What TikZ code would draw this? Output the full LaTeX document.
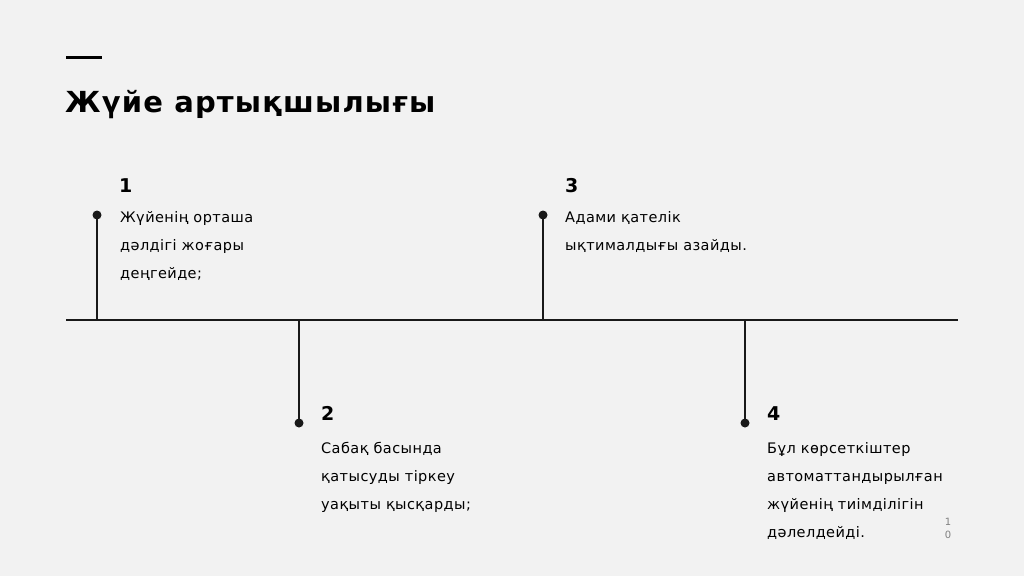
\documentclass[tikz,border=0pt]{standalone}
\usepackage{fontspec}
\setmainfont{DejaVu Sans}[LetterSpace=3]
\begin{document}
\begin{tikzpicture}[x=1pt,y=-1pt,
  ln/.style={line width=2.5pt,black!90},
  dot/.style={circle,fill=black!90,inner sep=0pt,minimum size=9pt},
  num/.style={anchor=base west,inner sep=0pt,font=\fontsize{19}{24}\selectfont\bfseries},
  txt/.style={anchor=north west,inner sep=0pt,align=left,font=\fontsize{14.5}{28}\selectfont}]
\fill[gray!10] (0,0) rectangle (1024,576);
\useasboundingbox (0,0) rectangle (1024,576);
\draw[line width=3pt] (66,57) -- (102,57);
\node[anchor=base west,inner sep=0pt,font=\fontsize{29}{32}\selectfont\bfseries\addfontfeature{LetterSpace=4}] (title) at (65,112) {Жүйе артықшылығы};
\coordinate (L) at (66,320); \coordinate (R) at (958,320);
\draw[ln] (L) -- (R);
\node[dot] (d1) at (97,215) {}; \coordinate (b1) at (97,320);
\node[dot] (d2) at (299,423) {}; \coordinate (b2) at (299,320);
\node[dot] (d3) at (543,215) {}; \coordinate (b3) at (543,320);
\node[dot] (d4) at (745,423) {}; \coordinate (b4) at (745,320);
\foreach \i in {1,2,3,4} \draw[ln] (d\i.center) -- (b\i);
\node[num] (n1) at (119,192) {1};
\node[num] (n2) at (321,420) {2};
\node[num] (n3) at (565,192) {3};
\node[num] (n4) at (767,420) {4};
\node[txt] (t1) at (120,211) {Жүйенің орташа\\дәлдігі жоғары\\деңгейде;};
\node[txt] (t2) at (321,442) {Сабақ басында\\қатысуды тіркеу\\уақыты қысқарды;};
\node[txt] (t3) at (565,211) {Адами қателік\\ықтималдығы азайды.};
\node[txt] (t4) at (767,442) {Бұл көрсеткіштер\\автоматтандырылған\\жүйенің тиімділігін\\дәлелдейді.};
\node[inner sep=0pt,align=center,text=gray,font=\fontsize{10}{13}\selectfont] (pg) at (948,528) {1\\0};
\end{tikzpicture}
\end{document}
